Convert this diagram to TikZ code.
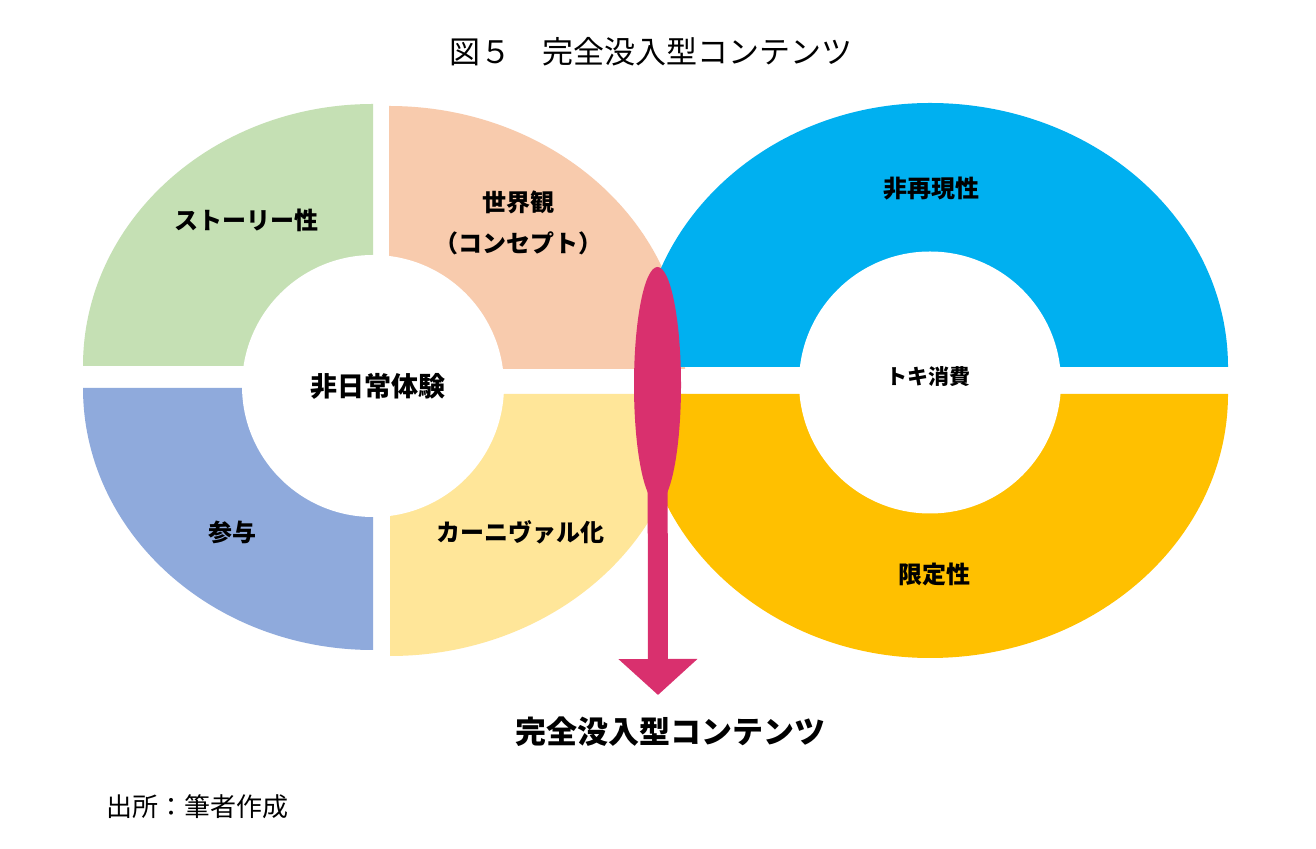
\documentclass[tikz,border=0pt]{standalone}
\usepackage{fontspec}
\setmainfont{Noto Sans CJK JP}
\usetikzlibrary{shapes.geometric,arrows.meta}
\definecolor{cGreen}{HTML}{C5E0B4}
\definecolor{cPeach}{HTML}{F8CBAD}
\definecolor{cSlate}{HTML}{8FAADC}
\definecolor{cCream}{HTML}{FFE699}
\definecolor{cSky}{HTML}{00B0F0}
\definecolor{cAmber}{HTML}{FFC000}
\definecolor{cMag}{HTML}{D9306E}
\begin{document}
\begin{tikzpicture}[x=1pt,y=1pt,
  lab/.style={font=\fontsize{24pt}{28pt}\selectfont\bfseries, inner sep=0pt}]
\fill[white] (0,0) rectangle (1316,848);
\useasboundingbox (0,0) rectangle (1316,848);
% left donut
\fill[cGreen] (373,482) -- (83,482) arc[start angle=180,end angle=90,x radius=290,y radius=262] -- cycle;
\fill[cPeach] (389,479) -- (389,742) arc[start angle=90,end angle=0,x radius=296,y radius=263] -- cycle;
\fill[cSlate] (373,460) -- (83,460) arc[start angle=180,end angle=270,x radius=290,y radius=262] -- cycle;
\fill[cCream] (390,454) -- (390,192) arc[start angle=270,end angle=360,x radius=296,y radius=262] -- cycle;
\fill[white] (373,462) circle[radius=131];
% right donut
\fill[cSky] (640,481) arc[start angle=180,end angle=90,x radius=290,y radius=264]
  arc[start angle=90,end angle=0,x radius=298,y radius=264] -- cycle;
\fill[cAmber] (1228,454) arc[start angle=0,end angle=-90,x radius=298,y radius=264]
  arc[start angle=-90,end angle=-180,x radius=290,y radius=264] -- cycle;
\fill[white] (930,465.5) circle[radius=131];
% focus ellipse and arrow
\node[ellipse, fill=cMag, minimum width=47pt, minimum height=236pt, inner sep=0pt] (focus) at (657.5,463) {};
\coordinate (tip) at (658,153);
\draw[cMag, line width=20pt, -{Triangle[width=77pt,length=36pt]}] (focus.center) -- (tip);
% labels
\node[lab] (story) at (246,628) {ストーリー性};
\node[lab, font=\fontsize{24pt}{41pt}\selectfont\bfseries, align=center] (world) at (518,625) {世界観\\（コンセプト）};
\node[lab, font=\fontsize{27pt}{30pt}\selectfont\bfseries] (extra) at (378,462) {非日常体験};
\node[lab] (part) at (232,316) {参与};
\node[lab] (carn) at (520,316) {カーニヴァル化};
\node[lab] (nonrep) at (931,659) {非再現性};
\node[lab, font=\fontsize{21pt}{24pt}\selectfont\bfseries] (toki) at (928,471) {トキ消費};
\node[lab] (limit) at (934,274) {限定性};
\node[font=\fontsize{31pt}{34pt}\selectfont\bfseries, inner sep=0pt] (result) at (670,116) {完全没入型コンテンツ};
\node[font=\fontsize{31pt}{34pt}\selectfont, inner sep=0pt] (title) at (651,796) {図５　完全没入型コンテンツ};
\node[font=\fontsize{26pt}{30pt}\selectfont, inner sep=0pt, anchor=west] (source) at (106,41) {出所：筆者作成};
\end{tikzpicture}
\end{document}
